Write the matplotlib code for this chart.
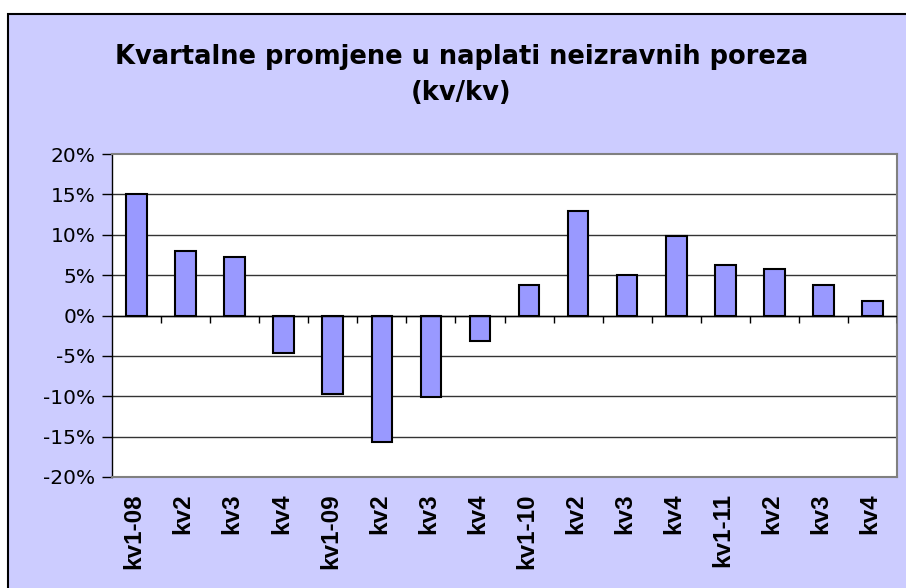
import matplotlib
matplotlib.use("Agg")
import matplotlib.pyplot as plt
from matplotlib.patches import Rectangle
from matplotlib.transforms import blended_transform_factory
import numpy as np

# quarterly changes (q/q)
labels = ["kv1-08", "kv2", "kv3", "kv4",
          "kv1-09", "kv2", "kv3", "kv4",
          "kv1-10", "kv2", "kv3", "kv4",
          "kv1-11", "kv2", "kv3", "kv4"]
values = [15.0, 8.0, 7.2, -4.6,
          -9.7, -15.7, -10.1, -3.1,
          3.8, 13.0, 5.0, 9.8,
          6.2, 5.8, 3.8, 1.8]
yticks = [-20, -15, -10, -5, 0, 5, 10, 15, 20]

plt.rcParams['font.family'] = ['Liberation Sans', 'DejaVu Sans']

fig = plt.figure(figsize=(9.06, 5.88), dpi=100)
fig.patch.set_facecolor("white")

# lavender chart area with black border (runs off right and bottom)
bg = Rectangle((8 / 906, -0.1), 1.2, 1 - 14 / 588 + 0.1, transform=fig.transFigure,
               facecolor="#CCCCFF", edgecolor="black", linewidth=1.5, zorder=-10)
fig.patches.append(bg)

fig.text(0.509, 1 - 57 / 588, "Kvartalne promjene u naplati neizravnih poreza",
         ha="center", va="center", fontsize=18.5, fontweight="bold", family="DejaVu Sans")
fig.text(0.509, 1 - 93 / 588, "(kv/kv)",
         ha="center", va="center", fontsize=18.5, fontweight="bold", family="DejaVu Sans")

ax = fig.add_axes([112 / 906, 1 - 477 / 588, (897 - 112) / 906, (477 - 154) / 588])
ax.set_facecolor("white")

x = np.arange(len(values))
ax.bar(x, values, width=0.42, color="#9999FF", edgecolor="black", linewidth=1.5, zorder=3)

ax.set_xlim(-0.5, len(values) - 0.5)
ax.set_ylim(-20, 20)
ax.set_yticks(yticks)
ax.set_yticklabels([f"{v}%" for v in yticks], fontsize=14.5, family="DejaVu Sans")
ax.tick_params(axis="y", direction="out", length=7, width=1, pad=5, colors="black")

for v in yticks[1:-1]:
    ax.axhline(v, color="#333333", linewidth=1, zorder=1)
ax.axhline(0, color="black", linewidth=1, zorder=4)

# x ticks at category boundaries, hanging below the zero line
ax.set_xticks([])
bounds = np.arange(0.5, len(values), 1.0)
ax.vlines(bounds, 0, -0.9, color="black", linewidth=1, zorder=4)

lab_trans = blended_transform_factory(ax.transData, ax.transAxes)
for xi, lab in zip(x, labels):
    ax.text(xi - 0.05, -0.05, lab, transform=lab_trans, rotation=90,
            ha="center", va="top", fontsize=17.5, fontweight="bold")

for side in ["top", "right", "bottom"]:
    ax.spines[side].set_color("#808080")
    ax.spines[side].set_linewidth(1.5)
ax.spines["left"].set_color("black")
ax.spines["left"].set_linewidth(1)

fig.savefig("out.png", dpi=100)
